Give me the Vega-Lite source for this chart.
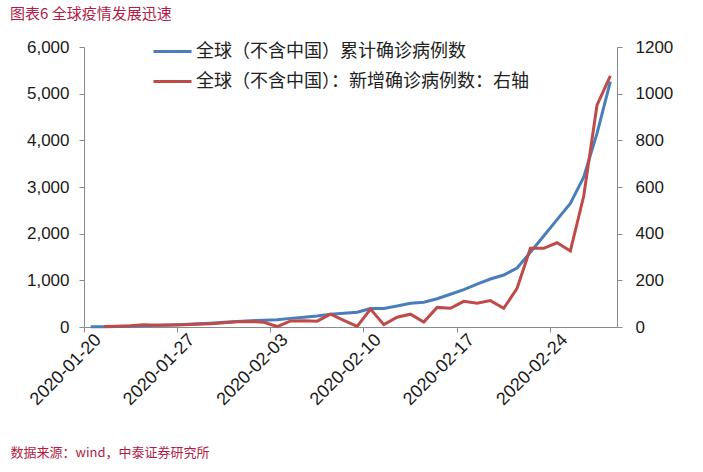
{
  "$schema": "https://vega.github.io/schema/vega-lite/v6.json",
  "width": 533,
  "height": 280,
  "autosize": {"type": "none"},
  "padding": {"left": 84, "top": 47, "right": 86, "bottom": 145},
  "background": "white",
  "title": {
    "text": "图表6 全球疫情发展迅速",
    "anchor": "start",
    "frame": "group",
    "dx": -74,
    "offset": 9,
    "fontSize": 15,
    "font": "Noto Sans CJK SC",
    "fontWeight": "normal",
    "color": "#b31b45"
  },
  "data": {
    "values": [
      {"date": "2020-01-20", "cum": 4, "new": null},
      {"date": "2020-01-21", "cum": 6, "new": 2},
      {"date": "2020-01-22", "cum": 9, "new": 3},
      {"date": "2020-01-23", "cum": 15, "new": 5},
      {"date": "2020-01-24", "cum": 25, "new": 10},
      {"date": "2020-01-25", "cum": 35, "new": 8},
      {"date": "2020-01-26", "cum": 45, "new": 9},
      {"date": "2020-01-27", "cum": 55, "new": 10},
      {"date": "2020-01-28", "cum": 68, "new": 12},
      {"date": "2020-01-29", "cum": 82, "new": 14},
      {"date": "2020-01-30", "cum": 100, "new": 18},
      {"date": "2020-01-31", "cum": 120, "new": 22},
      {"date": "2020-02-01", "cum": 135, "new": 24},
      {"date": "2020-02-02", "cum": 145, "new": 20},
      {"date": "2020-02-03", "cum": 155, "new": 2},
      {"date": "2020-02-04", "cum": 185, "new": 26},
      {"date": "2020-02-05", "cum": 210, "new": 27},
      {"date": "2020-02-06", "cum": 236, "new": 25},
      {"date": "2020-02-07", "cum": 272, "new": 55},
      {"date": "2020-02-08", "cum": 294, "new": 28},
      {"date": "2020-02-09", "cum": 318, "new": 3},
      {"date": "2020-02-10", "cum": 395, "new": 77},
      {"date": "2020-02-11", "cum": 398, "new": 10},
      {"date": "2020-02-12", "cum": 450, "new": 42},
      {"date": "2020-02-13", "cum": 508, "new": 55},
      {"date": "2020-02-14", "cum": 529, "new": 21},
      {"date": "2020-02-15", "cum": 606, "new": 84},
      {"date": "2020-02-16", "cum": 701, "new": 80},
      {"date": "2020-02-17", "cum": 799, "new": 110},
      {"date": "2020-02-18", "cum": 921, "new": 102},
      {"date": "2020-02-19", "cum": 1029, "new": 113},
      {"date": "2020-02-20", "cum": 1114, "new": 80},
      {"date": "2020-02-21", "cum": 1265, "new": 166},
      {"date": "2020-02-22", "cum": 1600, "new": 337},
      {"date": "2020-02-23", "cum": 1950, "new": 337},
      {"date": "2020-02-24", "cum": 2300, "new": 361},
      {"date": "2020-02-25", "cum": 2650, "new": 326},
      {"date": "2020-02-26", "cum": 3210, "new": 560},
      {"date": "2020-02-27", "cum": 4150, "new": 951},
      {"date": "2020-02-28", "cum": 5257, "new": 1076}
    ]
  },
  "encoding": {
    "x": {
      "field": "date",
      "type": "ordinal",
      "sort": null,
      "scale": {"type": "band", "paddingInner": 0, "paddingOuter": 0},
      "axis": {
        "values": ["2020-01-20", "2020-01-27", "2020-02-03", "2020-02-10", "2020-02-17", "2020-02-24"],
        "bandPosition": 0,
        "labelAngle": -45,
        "labelAlign": "right",
        "labelBaseline": "middle",
        "labelFontSize": 18,
        "labelColor": "#1a1a1a",
        "labelPadding": 5,
        "labelOffset": 8,
        "tickSize": 5,
        "tickColor": "#8a8a8a",
        "domainColor": "#8a8a8a",
        "title": "数据来源：wind，中泰证券研究所",
        "titleAnchor": "start",
        "titleAlign": "left",
        "titleBaseline": "alphabetic",
        "titleX": -74,
        "titleY": 129,
        "titleFontSize": 13,
        "titleFontWeight": "normal",
        "titleFont": "Noto Sans CJK SC",
        "titleColor": "#b31b45"
      }
    }
  },
  "layer": [
    {
      "mark": {"type": "line", "strokeWidth": 3},
      "encoding": {
        "y": {
          "field": "cum",
          "type": "quantitative",
          "scale": {"domain": [0, 6000]},
          "axis": {
            "orient": "left",
            "values": [0, 1000, 2000, 3000, 4000, 5000, 6000],
            "format": ",d",
            "title": null,
            "labelFontSize": 17,
            "labelColor": "#1a1a1a",
            "labelPadding": 10,
            "tickSize": 5,
            "tickColor": "#8a8a8a",
            "domainColor": "#8a8a8a"
          }
        },
        "color": {
          "datum": "全球（不含中国）累计确诊病例数",
          "scale": {
            "domain": ["全球（不含中国）累计确诊病例数", "全球（不含中国）：新增确诊病例数：右轴"],
            "range": ["#4a7ebb", "#be4b48"]
          },
          "legend": {
            "orient": "none",
            "legendX": 68,
            "legendY": -16,
            "title": null,
            "symbolType": "stroke",
            "symbolSize": 1444,
            "symbolStrokeWidth": 3,
            "labelFontSize": 18,
            "labelFont": "Noto Sans CJK SC",
            "labelColor": "#222222",
            "labelOffset": 3,
            "labelLimit": 0,
            "rowPadding": 0,
            "padding": 0
          }
        }
      }
    },
    {
      "mark": {"type": "line", "strokeWidth": 3},
      "encoding": {
        "y": {
          "field": "new",
          "type": "quantitative",
          "scale": {"domain": [0, 1200]},
          "axis": {
            "orient": "right",
            "values": [0, 200, 400, 600, 800, 1000, 1200],
            "format": "d",
            "title": null,
            "labelFontSize": 17,
            "labelColor": "#1a1a1a",
            "labelPadding": 13,
            "tickSize": 5,
            "tickColor": "#8a8a8a",
            "domainColor": "#8a8a8a"
          }
        },
        "color": {"datum": "全球（不含中国）：新增确诊病例数：右轴"}
      }
    }
  ],
  "resolve": {"scale": {"y": "independent"}},
  "config": {
    "view": {"stroke": null},
    "font": "Liberation Sans",
    "axis": {"grid": false}
  }
}
